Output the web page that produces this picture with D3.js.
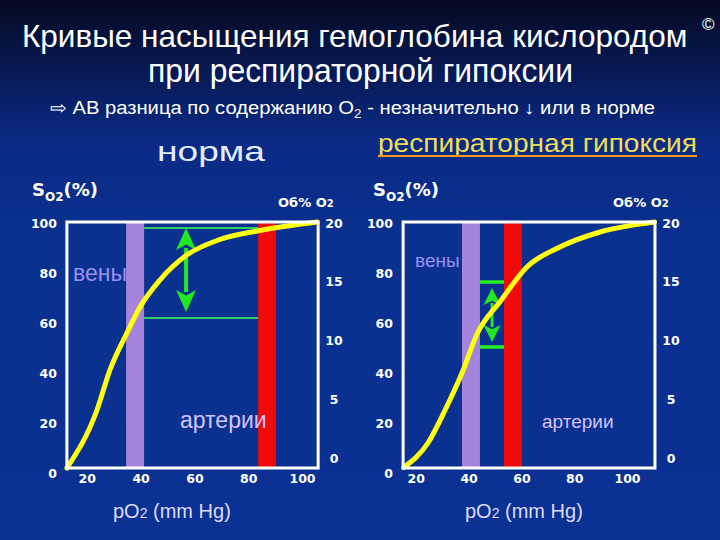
<!DOCTYPE html>
<html><head><meta charset="utf-8">
<script src="https://cdn.jsdelivr.net/npm/d3@7/dist/d3.min.js"></script>
<style>
html,body{margin:0;padding:0;background:#0a2a88;}
svg{display:block;}
</style></head>
<body>
<svg id="c" width="720" height="540"></svg>
<script>
// ---- data ----
const pO2Ticks = [20, 40, 60, 80, 100];
const so2Ticks = [0, 20, 40, 60, 80, 100];
const o2Ticks = [0, 5, 10, 15, 20];

// [pO2 mmHg, SO2 %]
const normCurve = [[12.6,2],[23.8,25.2],[28.6,41.2],[34.9,56],[39.8,66.4],[47.2,77.2],[56.9,87],[68.4,93],[84.4,97],[105.6,100.4]];
const hypoxCurve = [[15.4,2.2],[24.6,12],[31.1,25.2],[37.5,40],[43.4,56],[51.9,68.5],[62.1,82.4],[74.6,90.4],[89.8,96.4],[110.4,100.4]];

const normVeinBand = [34.6, 41.3];
const normArtBand = [83.7, 90.3];
const hypoxVeinBand = [37.5, 44.3];
const hypoxArtBand = [53.4, 60.2];

const normLevels = [98, 62];      // SO2 lines (arterial, venous)
const hypoxLevels = [76.4, 50.4];
const normArrow = [56.9, 98, 64.4];   // pO2, SO2 top, SO2 bottom
const hypoxArrow = [48.9, 74, 52.4];

const normBoxX = [12.6, 106];
const hypoxBoxX = [15.2, 110.6];
const boxY = [2, 100.4];

// ---- drawing ----
const svg = d3.select("#c");
const defs = svg.append("defs");
const g = defs.append("linearGradient").attr("id","bg").attr("x1",0).attr("y1",0).attr("x2",0).attr("y2",1);
g.append("stop").attr("offset","0%").attr("stop-color","#050a22");
g.append("stop").attr("offset","12%").attr("stop-color","#071850");
g.append("stop").attr("offset","26%").attr("stop-color","#0a2a84");
g.append("stop").attr("offset","45%").attr("stop-color","#0a3090");
g.append("stop").attr("offset","100%").attr("stop-color","#0a3193");
svg.append("rect").attr("width",720).attr("height",540).attr("fill","url(#bg)");

const sans = "'Liberation Sans', Arial, sans-serif";
const bold = "'DejaVu Sans', Verdana, sans-serif";

// titles
svg.append("text").attr("x",22).attr("y",47).attr("fill","#fff")
  .attr("font-family",sans).attr("font-size",31.5)
  .text("Кривые насыщения гемоглобина кислородом");
svg.append("text").attr("x",702).attr("y",30).attr("fill","#fff")
  .attr("font-family",sans).attr("font-size",17).text("©");
svg.append("text").attr("x",148).attr("y",82).attr("fill","#fff")
  .attr("font-family",sans).attr("font-size",33)
  .attr("textLength",425).attr("lengthAdjust","spacingAndGlyphs")
  .text("при респираторной гипоксии");
const sub = svg.append("text").attr("x",50).attr("y",114).attr("fill","#fff")
  .attr("font-family",sans).attr("font-size",18)
  .attr("textLength",605).attr("lengthAdjust","spacingAndGlyphs");
sub.append("tspan").text("⇨ АВ разница по содержанию O");
sub.append("tspan").attr("font-size",12).attr("dy",4).text("2");
sub.append("tspan").attr("dy",-4).text(" - незначительно ↓ или в норме");

svg.append("text").attr("x",157).attr("y",161).attr("fill","#e4ecff")
  .attr("font-family",sans).attr("font-size",27)
  .attr("textLength",108).attr("lengthAdjust","spacingAndGlyphs").text("норма");
svg.append("text").attr("x",378).attr("y",152).attr("fill","#eedd55")
  .attr("font-family",sans).attr("font-size",25)
  .attr("textLength",319).attr("lengthAdjust","spacingAndGlyphs").text("респираторная гипоксия");
svg.append("line").attr("x1",378).attr("x2",697).attr("y1",156).attr("y2",156)
  .attr("stroke","#ff9a1a").attr("stroke-width",2);

const y = d3.scaleLinear().domain([0,100]).range([473,223]);
const o2 = d3.scaleLinear().domain([0,20]).range([458,223]);

function panel(x, curve, veinBand, artBand, levels, arrow, boxX, opt) {
  const G = svg.append("g");
  const bx0 = x(boxX[0]), bx1 = x(boxX[1]), by0 = y(boxY[1]), by1 = y(boxY[0]);
  G.append("rect").attr("x",bx0).attr("y",by0).attr("width",bx1-bx0).attr("height",by1-by0)
    .attr("fill","#0a3090");
  // bands
  G.append("rect").attr("x",x(veinBand[0])).attr("width",x(veinBand[1])-x(veinBand[0]))
    .attr("y",by0).attr("height",by1-by0).attr("fill","#a585dc");
  G.append("rect").attr("x",x(artBand[0])).attr("width",x(artBand[1])-x(artBand[0]))
    .attr("y",by0).attr("height",by1-by0).attr("fill","#f00a0a");
  // green level lines
  levels.forEach(v => {
    G.append("line").attr("x1",x(veinBand[1])).attr("x2",x(artBand[0]))
      .attr("y1",y(v)).attr("y2",y(v)).attr("stroke",opt.lineColor).attr("stroke-width",opt.lineW);
  });
  // arrow
  const ax = x(arrow[0]), at = y(arrow[1]), ab = y(arrow[2]);
  const hh = opt.headH, hw = opt.headW;
  G.append("line").attr("x1",ax).attr("x2",ax).attr("y1",at+hh-2).attr("y2",ab-hh+2)
    .attr("stroke","#22e822").attr("stroke-width",opt.shaftW);
  G.append("path").attr("d",`M${ax},${at} L${ax-hw/2},${at+hh} L${ax},${at+hh*0.75} L${ax+hw/2},${at+hh} Z`).attr("fill","#22e822");
  G.append("path").attr("d",`M${ax},${ab} L${ax-hw/2},${ab-hh} L${ax},${ab-hh*0.75} L${ax+hw/2},${ab-hh} Z`).attr("fill","#22e822");
  // curve
  const line = d3.line().x(d=>x(d[0])).y(d=>y(d[1])).curve(d3.curveMonotoneX);
  G.append("path").attr("d",line(curve)).attr("fill","none").attr("stroke","#ffff10")
    .attr("stroke-width",5).attr("stroke-linecap","round").attr("stroke-linejoin","round");
  // frame
  G.append("rect").attr("x",bx0).attr("y",by0).attr("width",bx1-bx0).attr("height",by1-by0)
    .attr("fill","none").attr("stroke","#fff").attr("stroke-width",3);

  // axes
  const ay = G.append("g").attr("transform",`translate(${opt.leftLabelX+3},0)`)
    .call(d3.axisLeft(y).tickValues(so2Ticks).tickSize(0).tickPadding(3));
  const axb = G.append("g").attr("transform","translate(0,471)")
    .call(d3.axisBottom(x).tickValues(pO2Ticks).tickSize(0).tickPadding(3));
  const ar = G.append("g").attr("transform",`translate(${opt.rightLabelX},0)`)
    .call(d3.axisRight(o2).tickValues(o2Ticks).tickSize(0).tickPadding(0));
  ar.selectAll("text").attr("text-anchor","middle").attr("x",0);
  [ay, axb, ar].forEach(a => {
    a.select(".domain").remove();
    a.selectAll("text").attr("fill","#fff").attr("font-family",bold)
      .attr("font-weight","bold").attr("font-size",12.5);
  });

  // axis titles
  const st = G.append("text").attr("x",opt.so2X).attr("y",196).attr("fill","#fff")
    .attr("font-family",bold).attr("font-weight","bold").attr("font-size",18);
  st.append("tspan").text("S");
  st.append("tspan").attr("font-size",12).attr("dy",5).text("O2");
  st.append("tspan").attr("dy",-5).text("(%)");
  const ot = G.append("text").attr("x",opt.o2X).attr("y",207).attr("fill","#fff")
    .attr("font-family",bold).attr("font-weight","bold").attr("font-size",13);
  ot.append("tspan").text("Об% O");
  ot.append("tspan").attr("font-size",10).text("2");

  const px = G.append("text").attr("x",opt.pxX).attr("y",518).attr("fill","#dcdcff")
    .attr("font-family",sans).attr("font-size",20);
  px.append("tspan").text("pO");
  px.append("tspan").attr("font-size",14).text("2");
  px.append("tspan").text(" (mm Hg)");

  G.append("text").attr("x",opt.venX).attr("y",opt.venY).attr("fill","#9a90ec")
    .attr("font-family",sans).attr("font-size",opt.labSize).text("вены");
  G.append("text").attr("x",opt.artX).attr("y",opt.artY).attr("fill","#d4c4ff")
    .attr("font-family",sans).attr("font-size",opt.labSize).text("артерии");
}

const xL = d3.scaleLinear().domain([0,100]).range([33,302]);
const xR = d3.scaleLinear().domain([0,100]).range([363,627]);

panel(xL, normCurve, normVeinBand, normArtBand, normLevels, normArrow, normBoxX, {
  lineColor:"#33cc66", lineW:2, shaftW:4, headH:22, headW:20,
  leftLabelX:57, rightLabelX:334, so2X:32, o2X:278, pxX:113,
  venX:73, venY:281, artX:180, artY:428, labSize:23
});
panel(xR, hypoxCurve, hypoxVeinBand, hypoxArtBand, hypoxLevels, hypoxArrow, hypoxBoxX, {
  lineColor:"#22ee22", lineW:3.5, shaftW:3, headH:17, headW:17,
  leftLabelX:393, rightLabelX:671, so2X:373, o2X:613, pxX:465,
  venX:415, venY:267, artX:542, artY:428, labSize:19
});
</script>
</body></html>
